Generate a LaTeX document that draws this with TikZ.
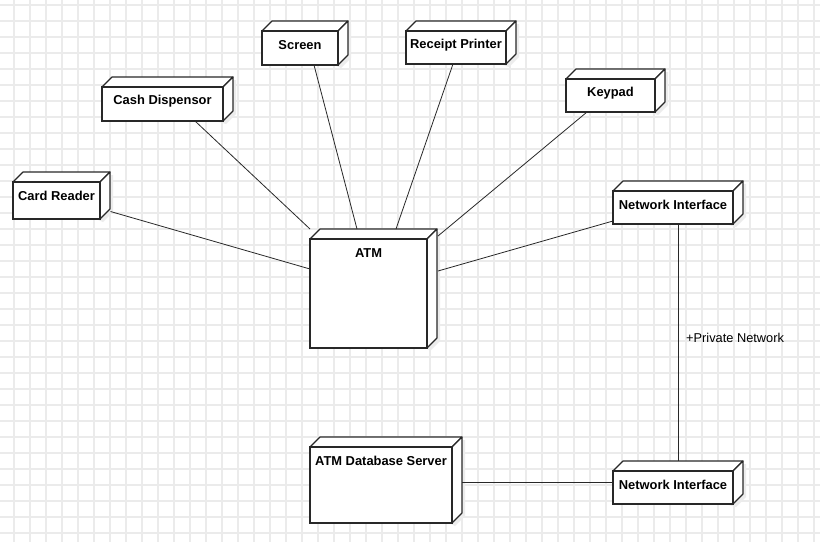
\documentclass[tikz,border=0pt]{standalone}
\usepackage{fontspec}
\setmainfont{Liberation Sans}
\usetikzlibrary{calc}
\definecolor{gridc}{RGB}{235,235,235}
\definecolor{strokec}{RGB}{40,40,40}
\definecolor{shadc}{RGB}{236,236,236}
\tikzset{
  gridline/.style={draw=gridc, line width=1.3pt},
  face/.style={draw=strokec, fill=white, line width=1.1pt, line join=round},
  front/.style={draw=strokec, fill=white, line width=1.1pt, rectangle, inner sep=0pt, outer sep=0pt, anchor=north west},
  lbl/.style={font=\fontsize{12.9}{15}\selectfont\bfseries, anchor=center, yshift=-13.8pt},
  conn/.style={draw=strokec, line width=0.8pt},
  note/.style={font=\fontsize{12.8}{15}\selectfont, anchor=west, inner sep=0pt}
}
% name, x1, y1, width, height, text
\newcommand\umlnode[6]{%
  \fill[shadc] (#2+3,#3+3) -- (#2+13,#3-7) -- (#2+#4+13,#3-7) -- (#2+#4+13,#3+#5-7) -- (#2+#4+3,#3+#5+3) -- cycle;
  \draw[face] (#2,#3) -- (#2+10,#3-10) -- (#2+#4+10,#3-10) -- (#2+#4,#3) -- cycle;
  \draw[face] (#2+#4,#3) -- (#2+#4+10,#3-10) -- (#2+#4+10,#3+#5-10) -- (#2+#4,#3+#5) -- cycle;
  \node[front, minimum width=#4pt, minimum height=#5pt, label={[lbl]north:#6}] (#1) at (#2,#3) {};
}
\begin{document}
\begin{tikzpicture}[x=1pt,y=-1pt]
\useasboundingbox (0,0) rectangle (820,542);
\fill[white] (0,0) rectangle (820,542);
\foreach \x in {14,30,...,814} \draw[gridline] (\x,0) -- (\x,542);
\foreach \y in {5,21,...,541} \draw[gridline] (0,\y) -- (820,\y);

\umlnode{cr}{13}{182}{87}{37}{Card Reader}
\umlnode{cd}{102}{87}{121}{34}{Cash Dispensor}
\umlnode{sc}{262}{31}{76}{34}{Screen}
\umlnode{rp}{406}{31}{100}{33}{Receipt Printer}
\umlnode{kp}{566}{79}{89}{33}{Keypad}
\umlnode{atm}{310}{239}{117}{109}{ATM}
\umlnode{nia}{613}{191}{120}{33}{Network Interface}
\umlnode{nib}{613}{471}{120}{33}{Network Interface}
\umlnode{db}{310}{447}{142}{76}{ATM Database Server}

\draw[conn] ($(cr.south east)+(10.5,-7.5)$) -- ($(atm.north west)+(0,30)$);
\draw[conn] ($(cd.south west)+(93,0)$) -- ($(atm.north west)+(0,-10)$);
\draw[conn] ($(sc.south west)+(52,0)$) -- ($(atm.north west)+(47,-10)$);
\draw[conn] ($(rp.south west)+(47,0)$) -- ($(atm.north west)+(86,-10)$);
\draw[conn] ($(kp.south west)+(21,0)$) -- ($(atm.north east)+(11,-3)$);
\draw[conn] ($(nia.north west)+(0,30)$) -- ($(atm.north east)+(11,32)$);
\draw[conn] ($(nia.south west)+(65,0)$) -- ($(nib.north west)+(65,-10)$);
\draw[conn] ($(db.north east)+(10,35)$) -- ($(nib.north west)+(0,11)$);
\node[note] (pn) at (686,338) {+Private Network};
\end{tikzpicture}
\end{document}
